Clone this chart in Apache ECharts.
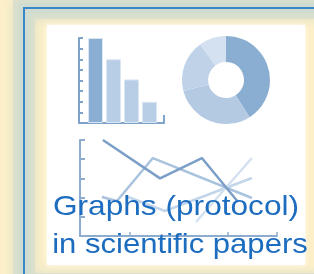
<!DOCTYPE html>
<html lang="en">
<head>
<meta charset="UTF-8">
<title>Graphs (protocol) in scientific papers</title>
<script src="https://cdn.jsdelivr.net/npm/echarts@6/dist/echarts.min.js"></script>
<style>
  html, body { margin: 0; padding: 0; background: #fdf0c8; }
  #chart { width: 314px; height: 274px; }
</style>
</head>
<body>
<div id="chart"></div>
<script>
// bar icon
const barSlots = [1, 2, 3, 4];
const barValues = [8, 6, 4.1, 2];
// donut icon
const pieValues = [41, 30, 19, 10];
// line icon, [x, y] pairs
const lineA = [[0.93, 5.0], [3.25, 3.0], [4.95, 4.06], [6.42, 1.77]];
const lineB = [[0.89, 2.03], [1.5, 1.82], [2.96, 4.06], [6.98, 1.98]];
const lineC = [[4.71, 0.73], [6.98, 4.06]];
const lineD = [[1.95, 2.03], [3.45, 1.3], [6.98, 3.02]];
const captionLines = ['Graphs (protocol)', 'in scientific papers'];

const axisBlue = '#7fa2cb';
const chart = echarts.init(document.getElementById('chart'));

function axisStyle(color) {
  return { show: true, lineStyle: { color: color, width: 2 } };
}

const frameShape = { x: 24, y: 8, width: 320, height: 276 };

const option = {
  animation: false,
  backgroundColor: '#fdf0c8',
  graphic: [
    // soft greenish glow round the frame line
    {
      type: 'rect', z: -12, shape: frameShape,
      style: { fill: 'none', stroke: 'rgba(214,222,205,0.75)', lineWidth: 22,
               shadowBlur: 12, shadowColor: 'rgba(214,222,205,1)' }
    },
    {
      type: 'rect', z: -11, shape: frameShape,
      style: { fill: 'none', stroke: 'rgba(208,220,208,0.9)', lineWidth: 10,
               shadowBlur: 6, shadowColor: 'rgba(208,220,208,1)' }
    },
    {
      type: 'rect', z: -10, shape: frameShape,
      style: { fill: 'none', stroke: '#3b87c9', lineWidth: 2 }
    },
    {
      type: 'rect', z: -9,
      shape: { x: 47, y: 25, width: 258, height: 240 },
      style: { fill: '#ffffff', shadowBlur: 5, shadowColor: 'rgba(255,255,255,0.9)' }
    },
    {
      type: 'text', z: 100, x: 176, y: 221, scaleX: 1.13,
      style: { text: captionLines[0], fill: '#1c6cbf', align: 'center', verticalAlign: 'bottom',
               font: '28px "Liberation Sans", Arial, sans-serif' }
    },
    {
      type: 'text', z: 100, x: 180, y: 259, scaleX: 1.11,
      style: { text: captionLines[1], fill: '#1c6cbf', align: 'center', verticalAlign: 'bottom',
               font: '28px "Liberation Sans", Arial, sans-serif' }
    }
  ],
  grid: [
    { left: 79, top: 38, width: 85, height: 85 },
    { left: 80, top: 140, width: 197, height: 96 }
  ],
  xAxis: [
    {
      gridIndex: 0, type: 'value', min: 0.083, max: 4.806,
      axisLine: axisStyle(axisBlue), splitLine: { show: false }, axisLabel: { show: false },
      axisTick: { show: true, inside: true, length: 8, customValues: [4.806],
                  lineStyle: { color: axisBlue, width: 2 } }
    },
    {
      gridIndex: 1, type: 'value', min: 0, max: 8,
      axisLine: axisStyle('#8eacd0'), splitLine: { show: false }, axisLabel: { show: false },
      axisTick: { show: true, inside: true, length: 4, customValues: [2, 6, 8],
                  lineStyle: { color: '#8eacd0', width: 1.5 } }
    }
  ],
  yAxis: [
    {
      gridIndex: 0, type: 'value', min: 0, max: 8, interval: 1,
      axisLine: axisStyle(axisBlue), splitLine: { show: false }, axisLabel: { show: false },
      axisTick: { show: true, inside: true, length: 4, lineStyle: { color: axisBlue, width: 2 } }
    },
    {
      gridIndex: 1, type: 'value', min: 0, max: 5, interval: 1,
      axisLine: axisStyle('#8eacd0'), splitLine: { show: false }, axisLabel: { show: false },
      axisTick: { show: true, inside: true, length: 5, lineStyle: { color: '#8eacd0', width: 2 } }
    }
  ],
  series: [
    {
      type: 'bar', xAxisIndex: 0, yAxisIndex: 0, barWidth: 15, silent: true,
      data: barSlots.map((s, i) => ({
        value: [s, barValues[i]],
        itemStyle: { color: i === 0 ? '#8aaed2' : '#b8cde6', borderColor: '#dbe6f3', borderWidth: 1 }
      }))
    },
    {
      type: 'pie', center: [226, 80], radius: [18, 44], startAngle: 90, silent: true,
      label: { show: false }, labelLine: { show: false },
      itemStyle: { borderWidth: 0 },
      color: ['#8aaed2', '#b4cae3', '#bfd2e8', '#d4e1f0'],
      data: pieValues.map(v => ({ value: v }))
    },
    { type: 'line', xAxisIndex: 1, yAxisIndex: 1, data: lineD, symbol: 'none', silent: true,
      lineStyle: { color: '#c3d5ea', width: 2.5 } },
    { type: 'line', xAxisIndex: 1, yAxisIndex: 1, data: lineC, symbol: 'none', silent: true,
      lineStyle: { color: '#d3e1f1', width: 2.5 } },
    { type: 'line', xAxisIndex: 1, yAxisIndex: 1, data: lineB, symbol: 'none', silent: true,
      lineStyle: { color: '#a9c2de', width: 2.5 } },
    { type: 'line', xAxisIndex: 1, yAxisIndex: 1, data: lineA, symbol: 'none', silent: true,
      lineStyle: { color: '#7c9fc8', width: 2.5 } }
  ]
};

chart.setOption(option);
</script>
</body>
</html>
